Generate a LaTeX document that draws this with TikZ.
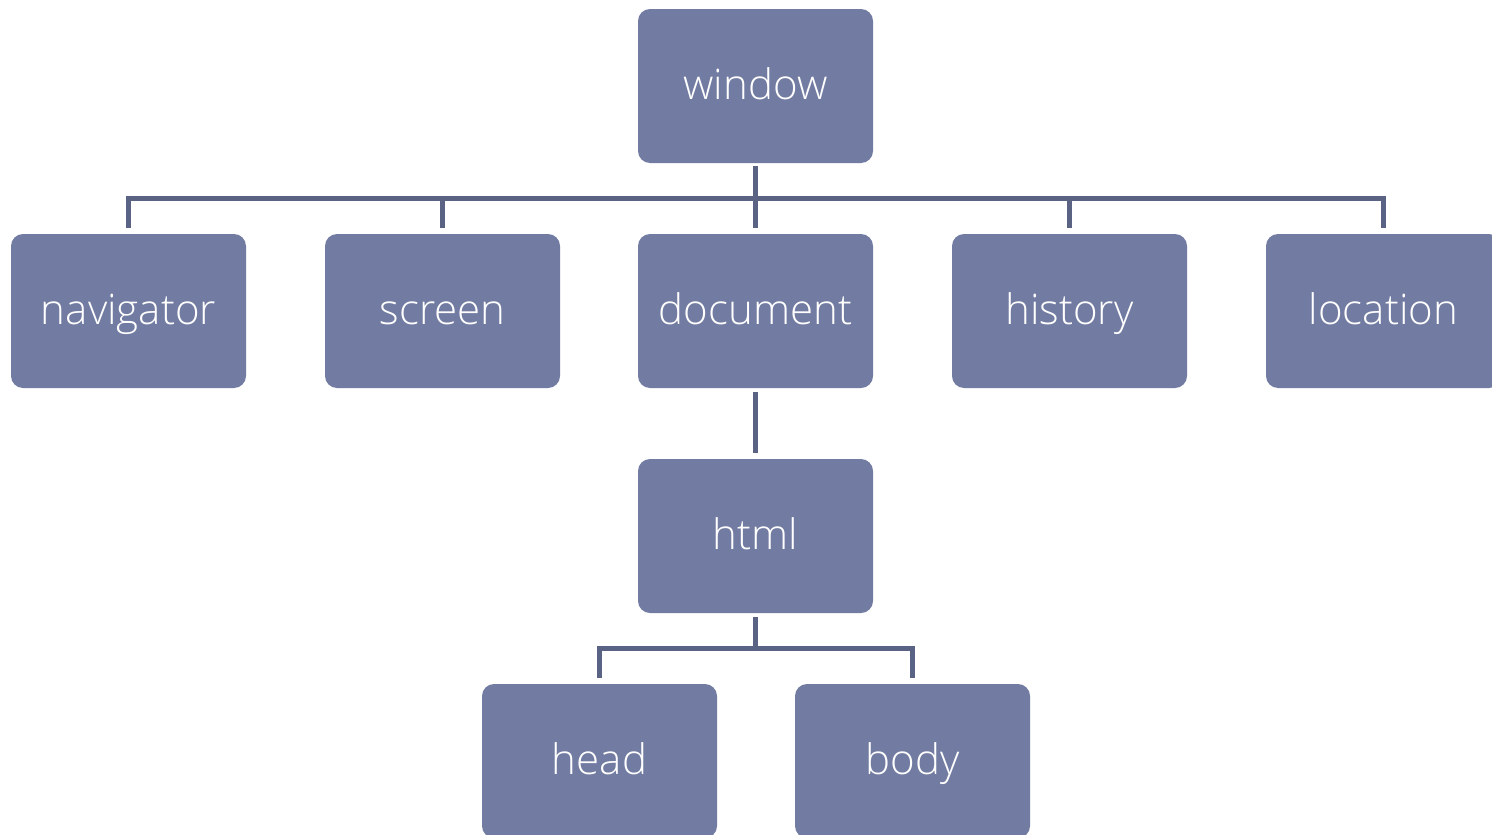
\documentclass[tikz,border=0pt]{standalone}
\usepackage{fontspec}
\setmainfont{Open Sans}[UprightFont=* Light]
\definecolor{boxfill}{RGB}{114,123,161}
\definecolor{linkcol}{RGB}{90,99,132}
\tikzset{
  objbox/.style={fill=boxfill, rounded corners=12pt, minimum width=235pt,
    minimum height=154pt, inner sep=0pt, text=white, text height=26pt, text depth=0pt,
    font=\fontsize{42}{50}\selectfont},
  conn/.style={draw=linkcol, line width=5pt, line join=miter}
}
\begin{document}
\begin{tikzpicture}[x=1pt,y=1pt]
\useasboundingbox (0,0) rectangle (1492,-835);
\clip (0,0) rectangle (1492,-835);
% tree of browser objects
\node[objbox] (window)    at (755.5,-86)  {window};
\node[objbox] (navigator) at (128.5,-311) {navigator};
\node[objbox] (screen)    at (442.5,-311) {screen};
\node[objbox] (document)  at (755.5,-311) {document};
\node[objbox] (history)   at (1069.5,-311) {history};
\node[objbox] (location)  at (1383.5,-311) {location};
\node[objbox] (html)      at (755.5,-536) {html};
\node[objbox] (head)      at (599.5,-761) {head};
\node[objbox] (body)      at (912.5,-761) {body};
% bus below window
\coordinate (bus) at (755.5,-198);
\draw[conn] ([yshift=6]navigator.north) -- (navigator.north |- bus) -- (location.north |- bus) -- ([yshift=6]location.north);
\foreach \n in {screen,history}
  \draw[conn] (\n.north |- bus) -- ([yshift=6]\n.north);
\draw[conn] ([yshift=-3]window.south) -- ([yshift=6]document.north);
% document to html
\draw[conn] ([yshift=-4]document.south) -- ([yshift=6]html.north);
% html to head and body
\coordinate (bus2) at (755.5,-648);
\draw[conn] ([yshift=-4]html.south) -- (bus2);
\draw[conn] ([yshift=6]head.north) -- (head.north |- bus2) -- (body.north |- bus2) -- ([yshift=6]body.north);
\end{tikzpicture}
\end{document}
